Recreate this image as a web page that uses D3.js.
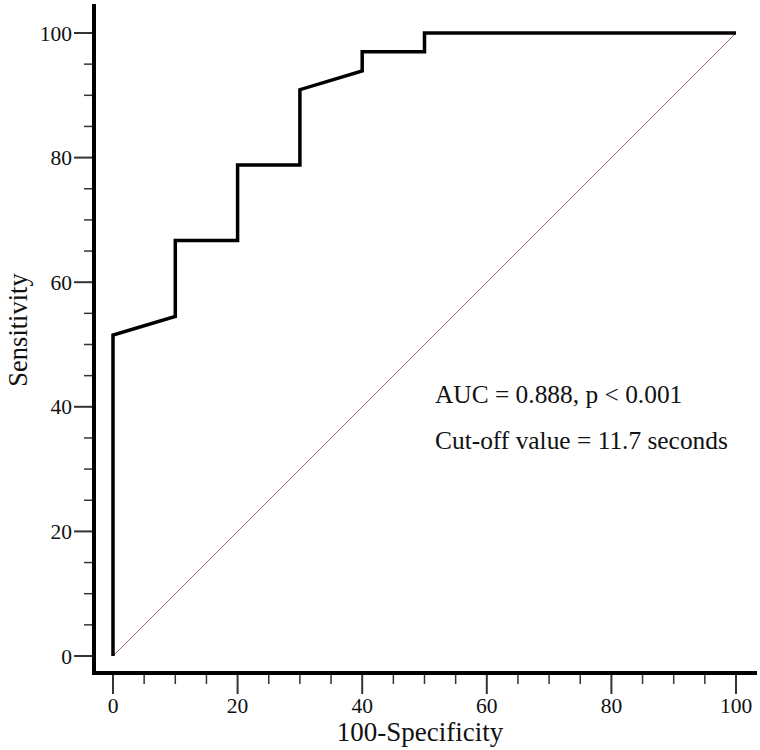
<!DOCTYPE html>
<html>
<head>
<meta charset="utf-8">
<script src="https://cdn.jsdelivr.net/npm/d3@7"></script>
<style>
  body { margin: 0; background: #fff; }
  svg text { font-family: "Liberation Serif", "Times New Roman", serif; fill: #111; }
</style>
</head>
<body>
<svg id="chart" width="760" height="750"></svg>
<script>
// ROC curve points (100-specificity, sensitivity)
const fpr = [0, 0, 10, 10, 20, 20, 30, 30, 40, 40, 50, 50, 100];
const tpr = [0, 51.5, 54.5, 66.7, 66.7, 78.8, 78.8, 90.9, 93.9, 97.0, 97.0, 100, 100];
const refLine = [[0, 0], [100, 100]];
const tickValues = [0, 20, 40, 60, 80, 100];
const minorTicks = d3.range(0, 101, 5).filter(v => v % 20 !== 0);
const notes = ["AUC = 0.888, p < 0.001", "Cut-off value = 11.7 seconds"];

const svg = d3.select("#chart");

const x = d3.scaleLinear().domain([0, 100]).range([113, 736]);
const y = d3.scaleLinear().domain([0, 100]).range([656, 33]);

const axisX = 94, axisY = 673;

// y axis
const yAxis = svg.append("g").attr("transform", `translate(${axisX},0)`);
yAxis.selectAll(".major").data(tickValues).join("line")
    .attr("x1", -20).attr("x2", 0)
    .attr("y1", d => y(d)).attr("y2", d => y(d))
    .attr("stroke", "#333").attr("stroke-width", 2);
yAxis.selectAll(".minor").data(minorTicks).join("line")
    .attr("x1", -10).attr("x2", 0)
    .attr("y1", d => y(d)).attr("y2", d => y(d))
    .attr("stroke", "#333").attr("stroke-width", 1.5);
yAxis.selectAll("text").data(tickValues).join("text")
    .attr("x", -22).attr("y", d => y(d)).attr("dy", "0.35em")
    .attr("text-anchor", "end").attr("font-size", 21.5)
    .text(d => d);

// x axis
const xAxis = svg.append("g").attr("transform", `translate(0,${axisY})`);
xAxis.selectAll(".major").data(tickValues).join("line")
    .attr("x1", d => x(d)).attr("x2", d => x(d))
    .attr("y1", 0).attr("y2", 21)
    .attr("stroke", "#333").attr("stroke-width", 2);
xAxis.selectAll(".minor").data(minorTicks).join("line")
    .attr("x1", d => x(d)).attr("x2", d => x(d))
    .attr("y1", 0).attr("y2", 11)
    .attr("stroke", "#333").attr("stroke-width", 1.5);
xAxis.selectAll("text").data(tickValues).join("text")
    .attr("x", d => x(d)).attr("y", 40)
    .attr("text-anchor", "middle").attr("font-size", 21.5)
    .text(d => d);

// axis lines
svg.append("line").attr("x1", axisX).attr("x2", axisX).attr("y1", 4).attr("y2", axisY + 2)
    .attr("stroke", "#000").attr("stroke-width", 4);
svg.append("line").attr("x1", axisX - 2).attr("x2", 757).attr("y1", axisY).attr("y2", axisY)
    .attr("stroke", "#000").attr("stroke-width", 4);

// reference diagonal
svg.append("path")
    .attr("d", d3.line().x(d => x(d[0])).y(d => y(d[1]))(refLine))
    .attr("fill", "none").attr("stroke", "#9e6b6b").attr("stroke-width", 1);

// ROC curve
const pts = fpr.map((f, i) => [f, tpr[i]]);
svg.append("path")
    .attr("d", d3.line().x(d => x(d[0])).y(d => y(d[1]))(pts))
    .attr("fill", "none").attr("stroke", "#000").attr("stroke-width", 3.5)
    .attr("stroke-linejoin", "miter");

// annotations
svg.selectAll(".note").data(notes).join("text")
    .attr("x", 435).attr("y", (d, i) => 403 + i * 46)
    .attr("font-size", 25.4)
    .text(d => d);

// axis titles
svg.append("text")
    .attr("x", 420).attr("y", 741)
    .attr("text-anchor", "middle").attr("font-size", 27)
    .text("100-Specificity");
svg.append("text")
    .attr("transform", "translate(27,330) rotate(-90)")
    .attr("text-anchor", "middle").attr("font-size", 26.5)
    .text("Sensitivity");
</script>
</body>
</html>
